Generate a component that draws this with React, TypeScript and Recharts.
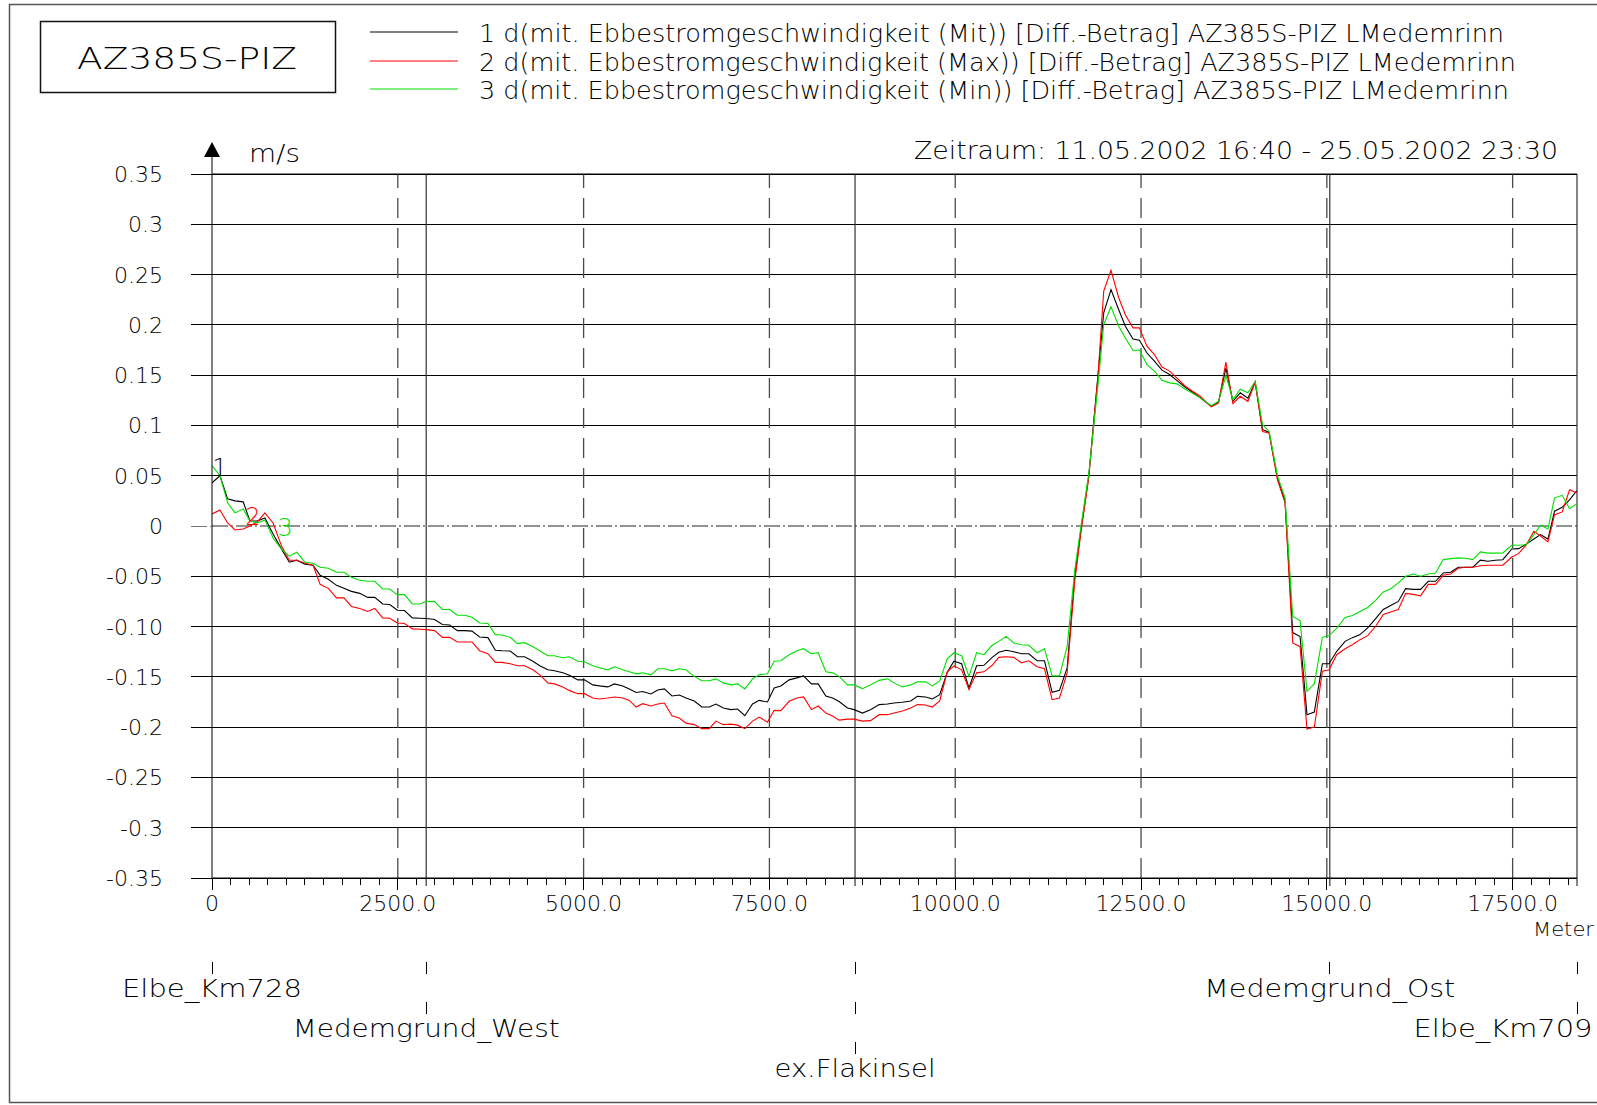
import React from 'react';
import { ComposedChart, Line, XAxis, YAxis, ReferenceLine, ReferenceDot } from 'recharts';

const W = 1597;
const H = 1105;
const X_MAX = 18366;
const FONT = '"DejaVu Sans", "Liberation Sans", sans-serif';
const FW = 200;
const TXT = '#000';

// distance along the profile (m)
const distance = [
  0, 107, 210, 310, 420, 510, 610, 712, 822, 936,
  1040, 1140, 1250, 1360, 1455, 1565, 1675, 1775, 1876, 1988,
  2095, 2190, 2297, 2391, 2495, 2590, 2696, 2795, 2884, 2996,
  3099, 3198, 3301, 3400, 3498, 3601, 3713, 3812, 3901, 4013,
  4110, 4206, 4318, 4410, 4519, 4609, 4721, 4810, 4922, 5011,
  5124, 5213, 5325, 5414, 5526, 5616, 5706, 5795, 5907, 5997,
  6086, 6189, 6288, 6377, 6489, 6590, 6691, 6780, 6880, 6982,
  7071, 7170, 7273, 7362, 7474, 7564, 7654, 7766, 7869, 7959,
  8066, 8156, 8259, 8349, 8438, 8550, 8640, 8752, 8860, 8976,
  9088, 9177, 9289, 9401, 9491, 9603, 9692, 9791, 9893, 9983,
  10086, 10185, 10288, 10386, 10497, 10587, 10685, 10788, 10891, 10990,
  11102, 11201, 11304, 11403, 11506, 11608, 11698, 11797, 11921, 11998,
  12096, 12200, 12289, 12392, 12478, 12580, 12680, 12782, 12885, 12984,
  13096, 13194, 13297, 13445, 13543, 13642, 13736, 13835, 13938, 14036,
  14134, 14223, 14335, 14438, 14541, 14640, 14733, 14832, 14940, 15030,
  15133, 15245, 15344, 15447, 15550, 15657, 15760, 15859, 15962, 16060,
  16163, 16262, 16365, 16463, 16566, 16665, 16768, 16866, 16965, 17066,
  17168, 17266, 17368, 17489, 17579, 17683, 17786, 17876, 17975, 18064,
  18167, 18266, 18361,
];

// 1: d(... (Mit))
const mitValues = [
  0.043, 0.05, 0.027, 0.025, 0.024, 0.005, 0.005, 0.008, -0.008, -0.023,
  -0.036, -0.034, -0.038, -0.039, -0.049, -0.053, -0.059, -0.062, -0.065, -0.067,
  -0.071, -0.071, -0.0775, -0.078, -0.0838, -0.084, -0.0914, -0.0917, -0.092, -0.093,
  -0.098, -0.0985, -0.104, -0.104, -0.1045, -0.1103, -0.111, -0.1236, -0.124, -0.1243,
  -0.13, -0.13, -0.1345, -0.139, -0.143, -0.144, -0.146, -0.1485, -0.153, -0.153,
  -0.158, -0.159, -0.16, -0.157, -0.159, -0.162, -0.1655, -0.1645, -0.167, -0.163,
  -0.162, -0.169, -0.168, -0.171, -0.174, -0.18, -0.18, -0.177, -0.181, -0.1826,
  -0.182, -0.1886, -0.177, -0.1734, -0.175, -0.161, -0.159, -0.153, -0.151, -0.149,
  -0.157, -0.157, -0.169, -0.171, -0.1745, -0.181, -0.1826, -0.186, -0.1826, -0.1776,
  -0.177, -0.176, -0.1753, -0.174, -0.1694, -0.17, -0.172, -0.1677, -0.1455, -0.1345,
  -0.137, -0.161, -0.139, -0.1385, -0.1306, -0.1256, -0.1236, -0.125, -0.127, -0.127,
  -0.134, -0.134, -0.1654, -0.1634, -0.141, -0.05, 0.0, 0.05, 0.15, 0.212,
  0.235, 0.215, 0.1987, 0.186, 0.1847, 0.172, 0.164, 0.155, 0.1506, 0.1446,
  0.138, 0.133, 0.1274, 0.119, 0.1232, 0.157, 0.124, 0.1324, 0.127, 0.143,
  0.096, 0.093, 0.0478, 0.0246, -0.106, -0.11, -0.1876, -0.185, -0.137, -0.137,
  -0.1246, -0.1147, -0.111, -0.108, -0.1014, -0.092, -0.083, -0.079, -0.075, -0.0623,
  -0.063, -0.063, -0.055, -0.055, -0.0467, -0.046, -0.041, -0.041, -0.041, -0.034,
  -0.035, -0.034, -0.0335, -0.0228, -0.0225, -0.018, -0.013, -0.0085, -0.013, 0.0147,
  0.0186, 0.026, 0.035,
];

// 2: d(... (Max))
const maxValues = [
  0.012, 0.016, 0.003, -0.004, -0.003, 0.0, 0.004, 0.013, 0.003, -0.02,
  -0.034, -0.034, -0.037, -0.039, -0.058, -0.062, -0.0715, -0.0715, -0.08, -0.082,
  -0.085, -0.082, -0.0914, -0.0917, -0.0964, -0.097, -0.1023, -0.1027, -0.103, -0.104,
  -0.1107, -0.1107, -0.1153, -0.1153, -0.1153, -0.124, -0.127, -0.1356, -0.1356, -0.137,
  -0.139, -0.139, -0.143, -0.148, -0.156, -0.157, -0.16, -0.1637, -0.1667, -0.1667,
  -0.171, -0.172, -0.171, -0.17, -0.171, -0.1734, -0.18, -0.1767, -0.179, -0.177,
  -0.176, -0.1886, -0.191, -0.196, -0.1975, -0.2015, -0.2015, -0.194, -0.1975, -0.197,
  -0.198, -0.2015, -0.194, -0.19, -0.195, -0.1833, -0.1836, -0.1743, -0.171, -0.17,
  -0.1826, -0.179, -0.186, -0.189, -0.193, -0.192, -0.192, -0.194, -0.1935, -0.1876,
  -0.1876, -0.186, -0.184, -0.181, -0.1776, -0.178, -0.18, -0.174, -0.145, -0.139,
  -0.143, -0.1627, -0.146, -0.145, -0.1385, -0.1306, -0.13, -0.1306, -0.136, -0.134,
  -0.14, -0.142, -0.1727, -0.171, -0.146, -0.055, -0.003, 0.048, 0.149, 0.2335,
  0.2543, 0.227, 0.21, 0.197, 0.197, 0.1788, 0.1705, 0.158, 0.154, 0.147,
  0.139, 0.134, 0.129, 0.1185, 0.1225, 0.163, 0.1217, 0.129, 0.124, 0.143,
  0.094, 0.0926, 0.046, 0.023, -0.1163, -0.12, -0.2018, -0.2, -0.1445, -0.143,
  -0.128, -0.122, -0.118, -0.113, -0.109, -0.0997, -0.088, -0.0855, -0.083, -0.067,
  -0.068, -0.0695, -0.058, -0.058, -0.049, -0.0477, -0.042, -0.041, -0.041, -0.0395,
  -0.039, -0.039, -0.039, -0.0308, -0.0275, -0.0187, -0.0052, -0.01, -0.0158, 0.0113,
  0.014, 0.036, 0.033,
];

// 3: d(... (Min))
const minValues = [
  0.06, 0.05, 0.023, 0.013, 0.017, 0.005, 0.003, 0.006, -0.012, -0.023,
  -0.03, -0.026, -0.036, -0.037, -0.041, -0.042, -0.046, -0.046, -0.051, -0.054,
  -0.055, -0.055, -0.0626, -0.0626, -0.0682, -0.0682, -0.0775, -0.0775, -0.0749, -0.0752,
  -0.083, -0.083, -0.0888, -0.0888, -0.0908, -0.0964, -0.097, -0.108, -0.1084, -0.1107,
  -0.117, -0.116, -0.12, -0.124, -0.129, -0.129, -0.131, -0.13, -0.1345, -0.135,
  -0.139, -0.141, -0.143, -0.14, -0.143, -0.145, -0.147, -0.146, -0.148, -0.142,
  -0.142, -0.144, -0.142, -0.143, -0.1495, -0.1538, -0.1538, -0.152, -0.156, -0.158,
  -0.157, -0.162, -0.152, -0.148, -0.147, -0.1345, -0.134, -0.128, -0.124, -0.122,
  -0.127, -0.126, -0.145, -0.146, -0.1495, -0.158, -0.158, -0.1617, -0.158, -0.1535,
  -0.152, -0.156, -0.16, -0.158, -0.155, -0.155, -0.159, -0.154, -0.132, -0.126,
  -0.129, -0.1495, -0.126, -0.128, -0.1186, -0.1147, -0.1097, -0.1163, -0.118, -0.1186,
  -0.126, -0.122, -0.149, -0.149, -0.1196, -0.044, 0.003, 0.052, 0.14, 0.2003,
  0.218, 0.1987, 0.187, 0.1745, 0.175, 0.1605, 0.154, 0.145, 0.1423, 0.1413,
  0.136, 0.132, 0.1274, 0.1197, 0.124, 0.1496, 0.1257, 0.136, 0.1324, 0.144,
  0.101, 0.094, 0.05, 0.028, -0.09, -0.094, -0.1644, -0.1568, -0.1107, -0.109,
  -0.1017, -0.091, -0.089, -0.085, -0.081, -0.074, -0.0656, -0.0623, -0.0566, -0.05,
  -0.0477, -0.05, -0.0477, -0.0467, -0.0334, -0.0324, -0.0317, -0.032, -0.0334, -0.0258,
  -0.027, -0.027, -0.0268, -0.0192, -0.0192, -0.0187, -0.0085, 0.0007, -0.003, 0.028,
  0.0305, 0.0173, 0.022,
];

const yTicks = [-0.35, -0.3, -0.25, -0.2, -0.15, -0.1, -0.05, 0, 0.05, 0.1, 0.15, 0.2, 0.25, 0.3, 0.35];
const yTickLabels = ['-0.35', '-0.3', '-0.25', '-0.2', '-0.15', '-0.10', '-0.05', '0', '0.05', '0.1', '0.15', '0.2', '0.25', '0.3', '0.35'];
const xLabelTicks = [0, 2500, 5000, 7500, 10000, 12500, 15000, 17500];
const xTickLabels = ['0', '2500.0', '5000.0', '7500.0', '10000.0', '12500.0', '15000.0', '17500.0'];
const xMinorTicks = Array.from({ length: 74 }, (_, i) => i * 250);
const dashedVerticals = [2500, 5000, 7500, 10000, 12500, 15000, 17500];

const stationNames = ['Elbe_Km728', 'Medemgrund_West', 'ex.Flakinsel', 'Medemgrund_Ost', 'Elbe_Km709'];
const stationPositions = [0, 2882, 8652, 15040, 18366];
const stationRows = [0, 1, 2, 0, 1];

const seriesKeys = ['mit', 'max', 'min'];
const seriesMarkers = ['1', '2', '3'];
const legendTexts = [
  '1 d(mit. Ebbestromgeschwindigkeit (Mit)) [Diff.-Betrag] AZ385S-PIZ LMedemrinn',
  '2 d(mit. Ebbestromgeschwindigkeit (Max)) [Diff.-Betrag] AZ385S-PIZ LMedemrinn',
  '3 d(mit. Ebbestromgeschwindigkeit (Min)) [Diff.-Betrag] AZ385S-PIZ LMedemrinn',
];
const titleText = 'AZ385S-PIZ';
const periodText = 'Zeitraum: 11.05.2002 16:40 - 25.05.2002 23:30';
const unitY = 'm/s';
const unitX = 'Meter';

// ---- styling / layout (not data) ----
const seriesColors = ['#000000', '#ff0000', '#00e000'];
const markerAnchors = [
  { index: 1, dx: 0, dy: 0 },
  { index: 5, dx: 3, dy: -1 },
  { index: 8, dx: 12, dy: -2 },
];
const legendLayout = { x1: 370, x2: 458, textX: 479, ys: [32, 61, 89], widths: [1025, 1037, 1030] };
const stationLayout = { dx: [0, 0, 0, 0, -74], widths: [180, 267, 161, 251, 179] };

const chartData = distance.map((d, i) => ({ d, mit: mitValues[i], max: maxValues[i], min: minValues[i] }));

const txtProps = { fontFamily: FONT, fontWeight: FW, fill: TXT };

const YTick = (props: any) => {
  const { x, y, payload } = props;
  const i = yTicks.findIndex((v) => Math.abs(v - payload.value) < 1e-9);
  const zero = Math.abs(payload.value) < 1e-9;
  return (
    <g>
      <line
        x1={x + 28}
        x2={x + 49}
        y1={y}
        y2={y}
        stroke={zero ? '#777' : '#000'}
        strokeDasharray={zero ? '16 3 2 3' : undefined}
        shapeRendering="crispEdges"
      />
      <text x={x} y={y + 8} textAnchor="end" fontSize={22} {...txtProps}>
        {i >= 0 ? yTickLabels[i] : ''}
      </text>
    </g>
  );
};

const XTick = (props: any) => {
  const { x, y, payload } = props;
  const li = xLabelTicks.indexOf(payload.value);
  const major = li >= 0;
  return (
    <g>
      <line x1={x} x2={x} y1={y} y2={y + (major ? 12 : 7)} stroke="#000" shapeRendering="crispEdges" />
      {major && (
        <text x={x} y={y + 33} textAnchor="middle" fontSize={22} {...txtProps}>
          {xTickLabels[li]}
        </text>
      )}
    </g>
  );
};

const StationTick = (props: any) => {
  const { x, y, payload } = props;
  const i = stationPositions.indexOf(payload.value);
  if (i < 0) return <g />;
  const row = stationRows[i];
  const dashes = [];
  for (let r = 0; r <= row; r++) {
    dashes.push(
      <line key={r} x1={x} x2={x} y1={y + 54 + 40 * r} y2={y + 66 + 40 * r} stroke="#000" shapeRendering="crispEdges" />
    );
  }
  return (
    <g>
      {dashes}
      <text
        x={x + stationLayout.dx[i]}
        y={y + 89 + 40 * row}
        textAnchor="middle"
        fontSize={25}
        {...txtProps}
        textLength={stationLayout.widths[i]}
        lengthAdjust="spacingAndGlyphs"
      >
        {stationNames[i]}
      </text>
    </g>
  );
};

const ArrowShape = (props: any) => {
  const { cx, cy } = props;
  return (
    <g>
      <line x1={cx} x2={cx} y1={cy} y2={cy - 20} stroke="#000" />
      <polygon points={`${cx},${cy - 32} ${cx - 8},${cy - 17} ${cx + 8},${cy - 17}`} fill="#000" />
      <text x={cx + 37} y={cy - 12} fontSize={24} {...txtProps} textLength={51} lengthAdjust="spacingAndGlyphs">
        {unitY}
      </text>
    </g>
  );
};

const markerLabel = (k: number) => (props: any) => {
  const a = markerAnchors[k];
  if (props.index !== a.index) return null;
  return (
    <text
      x={props.x + a.dx}
      y={props.y + a.dy}
      textAnchor="middle"
      fill={seriesColors[k]}
      fontSize={24}
      fontFamily={FONT}
      fontWeight={FW}
    >
      {seriesMarkers[k]}
    </text>
  );
};

const Decorations = () => (
  <svg width={W} height={H} style={{ position: 'absolute', left: 0, top: 0 }}>
    <rect x={9.5} y={4.5} width={1600} height={1098} fill="none" stroke="#555" strokeWidth={1.5} />
    <rect x={40.5} y={21.5} width={295} height={71} fill="none" stroke="#111" strokeWidth={1.5} />
    <text x={187} y={69} textAnchor="middle" fontSize={31} {...txtProps} textLength={220} lengthAdjust="spacingAndGlyphs">
      {titleText}
    </text>
    {legendTexts.map((t, i) => (
      <g key={i}>
        <line x1={legendLayout.x1} x2={legendLayout.x2} y1={legendLayout.ys[i]} y2={legendLayout.ys[i]} stroke={seriesColors[i]} strokeWidth={1.1} />
        <text
          x={legendLayout.textX}
          y={legendLayout.ys[i] + 10}
          fontSize={24}
          {...txtProps}
          textLength={legendLayout.widths[i]}
          lengthAdjust="spacingAndGlyphs"
        >
          {t}
        </text>
      </g>
    ))}
    <text x={914} y={159} fontSize={24} {...txtProps} textLength={644} lengthAdjust="spacingAndGlyphs">
      {periodText}
    </text>
    <text x={1533} y={936} fontSize={20} {...txtProps} textLength={61} lengthAdjust="spacingAndGlyphs">
      {unitX}
    </text>
  </svg>
);

export default function App() {
  return (
    <div style={{ position: 'absolute', left: 0, top: 0, width: W, height: H, background: '#fff', overflow: 'hidden' }}>
      <Decorations />
      <div style={{ position: 'absolute', left: 0, top: 0 }}>
        <ComposedChart width={W} height={H} data={chartData} margin={{ top: 174, right: 20, left: 152, bottom: 27 }}>
          <XAxis
            xAxisId="main"
            dataKey="d"
            type="number"
            domain={[0, X_MAX]}
            allowDataOverflow
            ticks={xMinorTicks}
            interval={0}
            height={30}
            tickSize={0}
            tickMargin={0}
            tickLine={false}
            axisLine={{ stroke: '#000' }}
            tick={<XTick />}
          />
          <XAxis
            xAxisId="st"
            dataKey="d"
            type="number"
            domain={[0, X_MAX]}
            allowDataOverflow
            ticks={stationPositions}
            interval={0}
            height={170}
            tickSize={0}
            tickMargin={0}
            tickLine={false}
            axisLine={false}
            tick={<StationTick />}
          />
          <XAxis
            xAxisId="top"
            dataKey="d"
            type="number"
            orientation="top"
            mirror
            domain={[0, X_MAX]}
            allowDataOverflow
            ticks={xMinorTicks}
            interval={0}
            tickSize={9}
            tick={false}
            tickLine={{ stroke: '#000' }}
            axisLine={{ stroke: '#000' }}
          />
          <YAxis
            type="number"
            domain={[-0.35, 0.35]}
            ticks={yTicks}
            interval={0}
            width={60}
            tickSize={21}
            tickMargin={28}
            tickLine={false}
            axisLine={{ stroke: '#000' }}
            tick={<YTick />}
          />
          {yTicks
            .filter((v) => Math.abs(v) > 1e-9)
            .map((v) => (
              <ReferenceLine key={`h${v}`} xAxisId="main" y={v} stroke="#000" strokeWidth={1} shapeRendering="crispEdges" />
            ))}
          <ReferenceLine xAxisId="main" y={0} stroke="#707070" strokeWidth={1.3} strokeDasharray="16 3 2 3" />
          {dashedVerticals.map((v) => (
            <ReferenceLine key={`v${v}`} xAxisId="main" x={v} stroke="#4a4a4a" strokeWidth={1.3} strokeDasharray="20 10" />
          ))}
          {stationPositions.slice(1).map((p) => (
            <ReferenceLine
              key={`s${p}`}
              xAxisId="main"
              segment={[{ x: p, y: 0.35 }, { x: p, y: -0.358 }]}
              ifOverflow="visible"
              stroke="#333"
              strokeWidth={1.2}
            />
          ))}
          <ReferenceDot xAxisId="main" x={0} y={0.35} r={0} ifOverflow="visible" shape={<ArrowShape />} />
          {seriesKeys.map((k, i) => (
            <Line
              key={k}
              xAxisId="main"
              type="linear"
              dataKey={k}
              stroke={seriesColors[i]}
              strokeWidth={1.1}
              dot={false}
              activeDot={false}
              isAnimationActive={false}
              label={markerLabel(i)}
            />
          ))}
        </ComposedChart>
      </div>
    </div>
  );
}
